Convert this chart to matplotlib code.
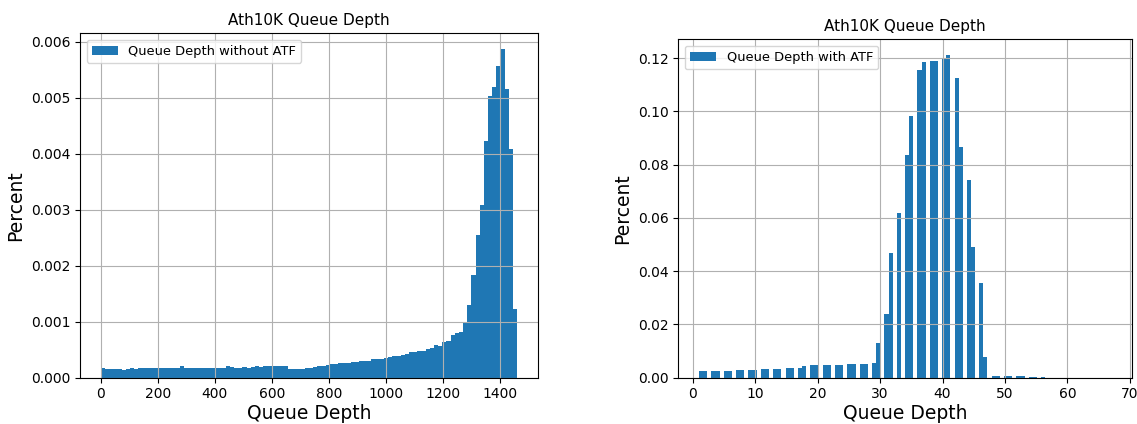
import numpy as np
import matplotlib
matplotlib.use("Agg")
import matplotlib.pyplot as plt

# Without ATF: 100 equal-width bins spanning queue depths 0..1460
no_atf_range = (0, 1460)
no_atf_percent = [
    0.000165, 0.00016, 0.00016, 0.000155, 0.00015, 0.000145, 0.00016, 0.000165, 0.00016, 0.00017,
    0.000165, 0.00017, 0.000165, 0.00018, 0.00018, 0.000175, 0.00018, 0.00018, 0.00018, 0.0002,
    0.00018, 0.000175, 0.00017, 0.00017, 0.00017, 0.00017, 0.000165, 0.00018, 0.000175, 0.00018,
    0.0002, 0.00019, 0.00018, 0.00018, 0.000185, 0.00018, 0.00019, 0.0002, 0.000195, 0.0002,
    0.00021, 0.00021, 0.00021, 0.00021, 0.0002, 0.000155, 0.00015, 0.00015, 0.000155, 0.000175,
    0.00018, 0.000185, 0.0002, 0.00021, 0.000225, 0.00025, 0.00024, 0.00026, 0.00026, 0.00027,
    0.00028, 0.00028, 0.00029, 0.00029, 0.0003, 0.00033, 0.00033, 0.00034, 0.00036, 0.00037,
    0.00038, 0.00039, 0.0004, 0.00043, 0.00045, 0.00046, 0.00047, 0.00048, 0.00051, 0.00053,
    0.00058, 0.00057, 0.00064, 0.00066, 0.00076, 0.0008, 0.00082, 0.001, 0.0013, 0.00183,
    0.00254, 0.00308, 0.00422, 0.00503, 0.00518, 0.00556, 0.00586, 0.00515, 0.00409, 0.00122,
]

# With ATF: share per integer queue depth 1..56 (histogrammed into 100 bins over 1..67)
atf_range = (1, 67)
atf_depth = list(range(1, 57))
atf_percent = [
    0.0025, 0.0025, 0.0025, 0.0025, 0.0025, 0.0025, 0.0029, 0.0029, 0.0029, 0.0029,
    0.0032, 0.0032, 0.0032, 0.0032, 0.0036, 0.0036, 0.0037, 0.0044, 0.0046, 0.0046,
    0.0046, 0.0046, 0.0046, 0.0049, 0.0050, 0.0052, 0.0053, 0.0053, 0.0056, 0.0129,
    0.0240, 0.0470, 0.0620, 0.0838, 0.0982, 0.1157, 0.1185, 0.1191, 0.1191, 0.1197,
    0.1210, 0.1125, 0.0866, 0.0744, 0.0490, 0.0354, 0.0079, 0.0008, 0.0007, 0.0007,
    0.0007, 0.0005, 0.0005, 0.0004, 0.0004, 0.0003,
]

BAR_COLOR = "#1f77b4"
TITLE_SIZE = 11
LABEL_SIZE = 13.5
LEGEND_SIZE = 9.4

fig = plt.figure(figsize=(11.37, 4.24), dpi=100)
ax1 = fig.add_axes([0.0704, 0.1092, 0.4028, 0.813])
ax2 = fig.add_axes([0.5966, 0.1092, 0.3988, 0.798])

# Left panel
edges = np.linspace(no_atf_range[0], no_atf_range[1], len(no_atf_percent) + 1)
ax1.hist(edges[:-1], bins=edges, weights=no_atf_percent, color=BAR_COLOR,
         label="Queue Depth without ATF")
ax1.set_title("Ath10K Queue Depth", fontsize=TITLE_SIZE)
ax1.set_xlabel("Queue Depth", fontsize=LABEL_SIZE, labelpad=2)
ax1.set_ylabel("Percent", fontsize=LABEL_SIZE)
ax1.set_xticks(np.arange(0, 1401, 200))
ax1.set_yticks(np.arange(0, 0.00601, 0.001))
ax1.yaxis.set_major_formatter(matplotlib.ticker.FormatStrFormatter("%.3f"))
ax1.grid(True)
ax1.legend(loc="upper left", fontsize=LEGEND_SIZE)

# Right panel
ax2.hist(atf_depth, bins=100, range=atf_range, weights=atf_percent, color=BAR_COLOR,
         label="Queue Depth with ATF")
ax2.set_title("Ath10K Queue Depth", fontsize=TITLE_SIZE)
ax2.set_xlabel("Queue Depth", fontsize=LABEL_SIZE, labelpad=2)
ax2.set_ylabel("Percent", fontsize=LABEL_SIZE)
ax2.set_xticks(np.arange(0, 71, 10))
ax2.set_yticks(np.arange(0, 0.121, 0.02))
ax2.yaxis.set_major_formatter(matplotlib.ticker.FormatStrFormatter("%.2f"))
ax2.grid(True)
ax2.legend(loc="upper left", fontsize=LEGEND_SIZE)

fig.savefig("out.png", dpi=100)
